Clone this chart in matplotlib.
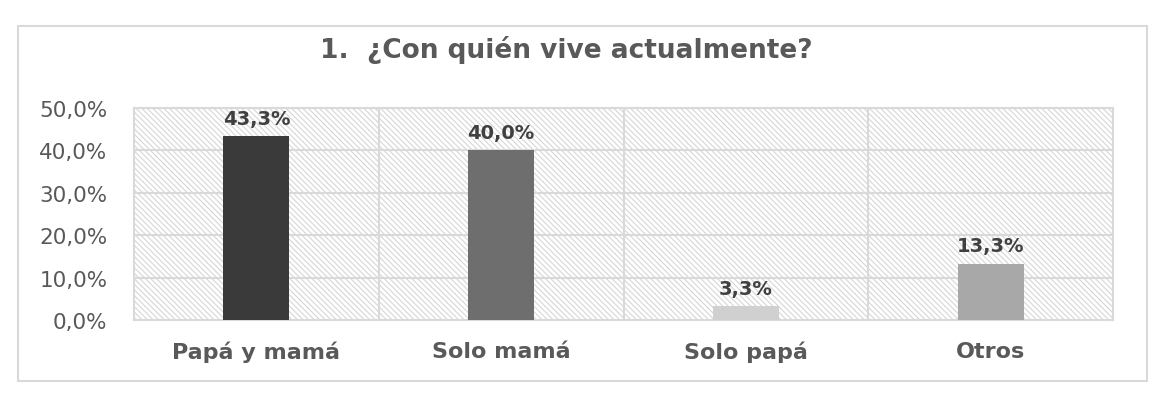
import matplotlib.pyplot as plt
from matplotlib.patches import Rectangle
from matplotlib.ticker import FuncFormatter

categories = ['Papá y mamá', 'Solo mamá', 'Solo papá', 'Otros']
values = [43.3, 40.0, 3.3, 13.3]
bar_colors = ['#3a3a3a', '#6e6e6e', '#d0d0d0', '#a8a8a8']
title = '1.  ¿Con quién vive actualmente?'

plt.rcParams['font.family'] = ['DejaVu Sans']
plt.rcParams['hatch.linewidth'] = 0.8
plt.rcParams['hatch.color'] = '#d6d6d6'

fig = plt.figure(figsize=(11.76, 4.06), dpi=100)

# outer chart border
fig.patches.append(Rectangle((18 / 1176, 1 - 382 / 406), (1147 - 18) / 1176, (382 - 27) / 406,
                             transform=fig.transFigure, fill=False, edgecolor='#d9d9d9', linewidth=1.5))

ax = fig.add_axes([134 / 1176, 85 / 406, (1113 - 134) / 1176, (321 - 109) / 406])

# hatched plot background
ax.add_patch(Rectangle((0, 0), 1, 1, transform=ax.transAxes, facecolor='white',
                       hatch='\\\\\\\\\\\\', edgecolor='#d6d6d6', linewidth=0, zorder=0))

x = range(len(categories))
ax.bar(x, values, width=0.27, color=bar_colors, zorder=3)

for i, v in enumerate(values):
    ax.text(i, v + 2.0, f'{v:.1f}%'.replace('.', ','), ha='center', va='bottom',
            fontsize=14, fontweight='bold', color='#404040')

ax.set_xlim(-0.5, len(categories) - 0.5)
ax.set_ylim(0, 50)
ax.set_yticks([0, 10, 20, 30, 40, 50])
ax.yaxis.set_major_formatter(FuncFormatter(lambda v, p: f'{v:.1f}%'.replace('.', ',')))
ax.set_xticks(list(x))
ax.set_xticklabels(categories, fontsize=16, fontweight='bold', color='#595959')
ax.tick_params(axis='y', labelsize=15.5, labelcolor='#595959', length=0, pad=19)
ax.tick_params(axis='x', length=0, pad=15)

# gridlines: horizontal at ticks, vertical at category boundaries
for y in [10, 20, 30, 40, 50]:
    ax.axhline(y, color='#d9d9d9', linewidth=1.5, zorder=1)
for b in [0.5, 1.5, 2.5]:
    ax.axvline(b, color='#d9d9d9', linewidth=1.5, zorder=1)

for s in ax.spines.values():
    s.set_color('#d9d9d9')
    s.set_linewidth(1.5)

fig.text(566 / 1176, 1 - 50 / 406, title, ha='center', va='center',
         fontsize=19, fontweight='bold', color='#595959')

fig.savefig('out.png', dpi=100)
